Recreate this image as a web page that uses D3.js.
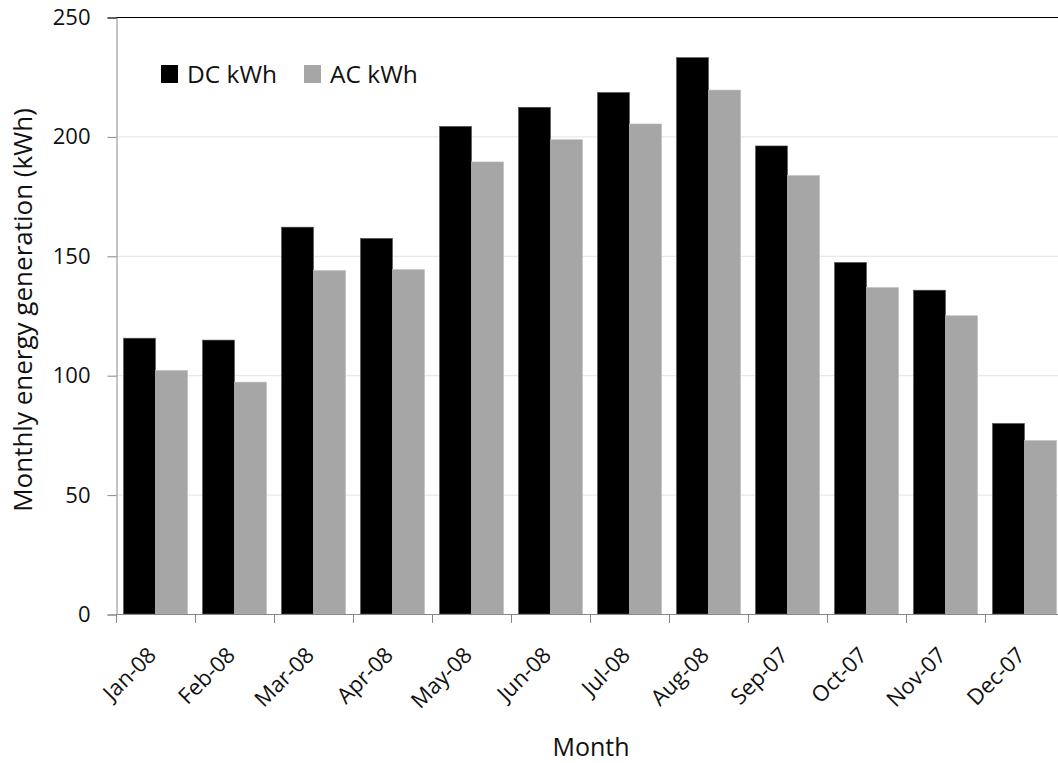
<!DOCTYPE html>
<html>
<head>
<meta charset="utf-8">
<script src="https://cdn.jsdelivr.net/npm/d3@7"></script>
<style>
  body { margin: 0; background: #fff; }
  svg { display: block; }
  text { font-family: "Open Sans", "DejaVu Sans", sans-serif; fill: #111; }
</style>
</head>
<body>
<svg id="canvas"></svg>
<script>
let months = ['Jan-08', 'Feb-08', 'Mar-08', 'Apr-08', 'May-08', 'Jun-08',
    'Jul-08', 'Aug-08', 'Sep-07', 'Oct-07', 'Nov-07', 'Dec-07'];
let dcKwh = [115.5, 114.7, 162, 157.3, 204.2, 212.2, 218.4, 233, 196, 147.2, 135.6, 79.8];
let acKwh = [102, 97.1, 143.8, 144.2, 189.3, 198.6, 205.2, 219.4, 183.6, 136.7, 124.9, 72.6];
let series = ['DC kWh', 'AC kWh'];
let yTicks = [0, 50, 100, 150, 200, 250];

let width = 1058;
let height = 763;
let plotLeft = 116, plotRight = 1064, plotTop = 17, plotBottom = 614;

let colors = { 'DC kWh': '#000000', 'AC kWh': '#a6a6a6' };

let canvas = d3.select('#canvas')
    .attr('width', width)
    .attr('height', height);

let xScale = d3.scaleBand()
    .domain(months)
    .range([plotLeft, plotRight])
    .paddingInner(0.19)
    .paddingOuter(0.095);

let xInner = d3.scaleBand()
    .domain(series)
    .range([0, xScale.bandwidth()]);

let yScale = d3.scaleLinear()
    .domain([0, 250])
    .range([plotBottom, plotTop]);

// gridlines
canvas.append('g')
    .selectAll('line')
    .data(yTicks.filter(t => t > 0 && t < 250))
    .enter()
    .append('line')
    .attr('x1', plotLeft)
    .attr('x2', width)
    .attr('y1', d => yScale(d) + 0.5)
    .attr('y2', d => yScale(d) + 0.5)
    .attr('stroke', '#e3e3e3')
    .attr('stroke-width', 1);

// bars
let rows = months.map((m, i) => ({ month: m, values: [dcKwh[i], acKwh[i]] }));

canvas.append('g')
    .selectAll('g')
    .data(rows)
    .enter()
    .append('g')
    .attr('transform', d => `translate(${xScale(d.month)},0)`)
    .selectAll('rect')
    .data(d => d.values.map((v, j) => ({ key: series[j], value: v })))
    .enter()
    .append('rect')
    .attr('x', d => xInner(d.key))
    .attr('width', xInner.bandwidth())
    .attr('y', d => yScale(d.value))
    .attr('height', d => plotBottom - yScale(d.value))
    .attr('fill', d => colors[d.key])
    .attr('stroke', d => d.key === 'DC kWh' ? '#555' : '#bbb')
    .attr('stroke-width', 0.6);

// top border
canvas.append('line')
    .attr('x1', plotLeft).attr('x2', width)
    .attr('y1', plotTop + 0.5).attr('y2', plotTop + 0.5)
    .attr('stroke', '#000').attr('stroke-width', 1);

// y axis
let yAxis = d3.axisLeft(yScale).tickValues(yTicks).tickSize(9).tickPadding(17);
let yG = canvas.append('g')
    .attr('transform', `translate(${plotLeft + 0.5},0.5)`)
    .call(yAxis);
yG.select('.domain').attr('stroke', '#888');
yG.selectAll('.tick line').attr('stroke', '#888');
yG.selectAll('.tick text').style('font-size', '22px');
yG.selectAll('.tick').filter(d => d === 250).select('line').attr('stroke', '#000');

// x axis
let xAxis = d3.axisBottom(xScale).tickSize(0).tickPadding(0);
let xG = canvas.append('g')
    .attr('transform', `translate(0,${plotBottom + 0.5})`)
    .call(xAxis);
xG.select('.domain').attr('stroke', '#888').attr('d', `M${plotLeft},0H${width}`);
xG.selectAll('.tick text')
    .style('font-size', '22px')
    .attr('text-anchor', 'end')
    .attr('dy', 0)
    .attr('y', 0)
    .attr('transform', 'translate(2,42) rotate(-45)');

// boundary ticks between categories
canvas.append('g')
    .selectAll('line')
    .data(months)
    .enter()
    .append('line')
    .attr('x1', d => Math.round(xScale(d) - xScale.step() * 0.095) + 0.5)
    .attr('x2', d => Math.round(xScale(d) - xScale.step() * 0.095) + 0.5)
    .attr('y1', plotBottom)
    .attr('y2', plotBottom + 9)
    .attr('stroke', '#888');

// axis titles
canvas.append('text')
    .attr('x', 591)
    .attr('y', 756)
    .attr('text-anchor', 'middle')
    .style('font-size', '25px')
    .text('Month');

canvas.append('text')
    .attr('transform', 'translate(32,310) rotate(-90)')
    .attr('text-anchor', 'middle')
    .style('font-size', '26px')
    .text('Monthly energy generation (kWh)');

// legend
let legend = canvas.append('g')
    .selectAll('g')
    .data(series)
    .enter()
    .append('g')
    .attr('transform', (d, i) => `translate(${161 + i * 143},65)`);

legend.append('rect')
    .attr('width', 17)
    .attr('height', 18)
    .attr('fill', d => colors[d]);

legend.append('text')
    .attr('x', 26)
    .attr('y', 18)
    .style('font-size', '24.5px')
    .text(d => d);
</script>
</body>
</html>
